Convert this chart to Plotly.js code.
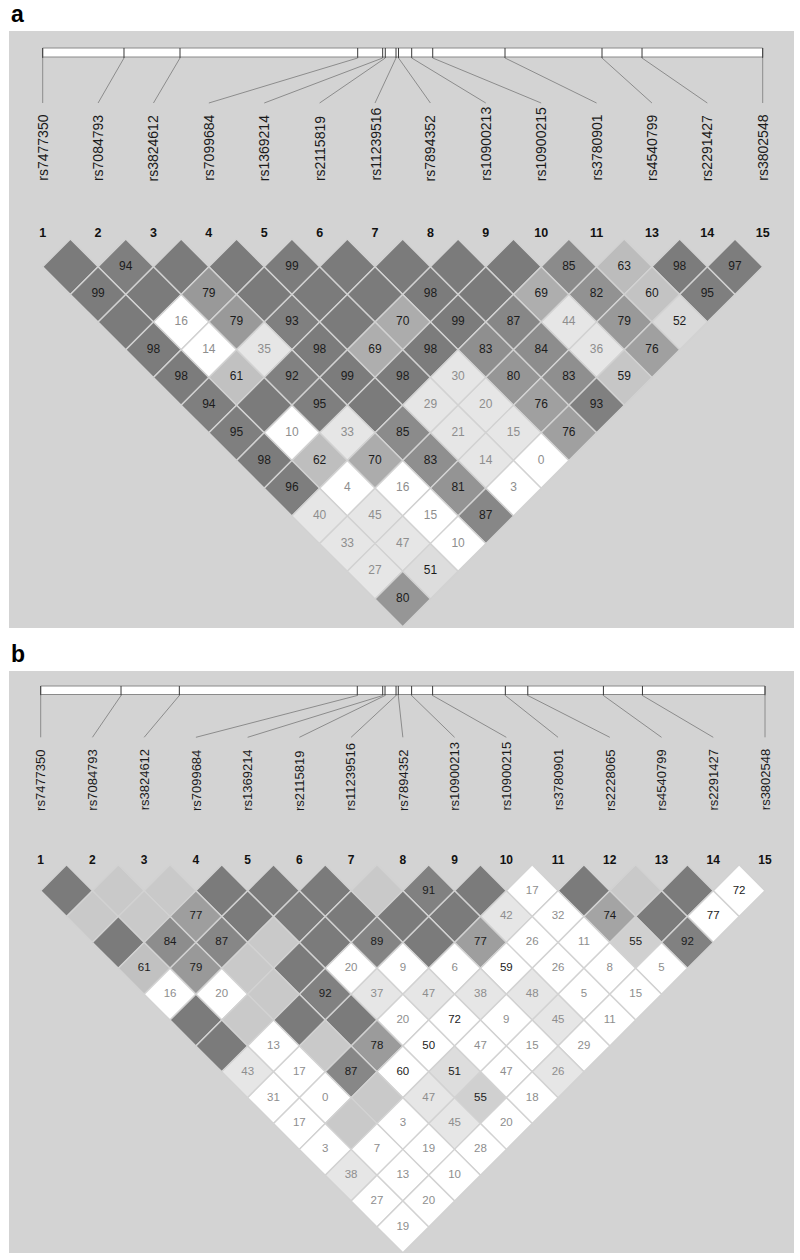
<!DOCTYPE html>
<html><head><meta charset="utf-8">
<script src="https://cdn.plot.ly/plotly-3.0.1.min.js"></script>
<style>body{margin:0;background:#fff}#chart{width:800px;height:1260px}</style>
</head><body><div id="chart"></div><script>
// ---------------- DATA ----------------
// Panel a
const snpsA = ['rs7477350','rs7084793','rs3824612','rs7099684','rs1369214','rs2115819','rs11239516','rs7894352','rs10900213','rs10900215','rs3780901','rs4540799','rs2291427','rs3802548'];
const numsA = ['1','2','3','4','5','6','7','8','9','10','11','13','14','15'];
// relative physical position along the region (% of span)
const posA = [0, 11.29, 19.07, 43.75, 47.22, 47.58, 49.07, 49.42, 51.25, 54.17, 64.21, 77.68, 83.24, 100];
// D' x100 by marker distance k=1..; 100 = D'=1 (no number shown)
const dprimeA = [
 [100,94,100,100,99,100,100,100,100,85,63,98,97],
 [99,100,79,100,100,100,98,100,69,82,60,95],
 [100,16,79,93,100,70,99,87,44,79,52],
 [98,14,35,98,69,98,83,84,36,76],
 [98,61,92,99,98,30,80,83,59],
 [94,100,95,100,29,20,76,93],
 [95,10,33,85,21,15,76],
 [98,62,70,83,14,0],
 [96,4,16,81,3],
 [40,45,15,87],
 [33,47,10],
 [27,51],
 [80]
];
// 1 = LOD >= 2, 0 = LOD < 2
const lodA = [
 [1,1,1,1,1,1,1,1,1,1,1,1,1],
 [1,1,1,1,1,1,1,1,1,1,1,1],
 [1,0,1,1,1,1,1,1,1,1,1],
 [1,0,1,1,1,1,1,1,1,1],
 [1,1,1,1,1,1,1,1,1],
 [1,1,1,1,1,1,1,1],
 [1,0,1,1,1,1,1],
 [1,1,1,1,1,0],
 [1,0,0,1,0],
 [1,1,0,1],
 [1,1,0],
 [1,1],
 [1]
];
// Panel b
const snpsB = ['rs7477350','rs7084793','rs3824612','rs7099684','rs1369214','rs2115819','rs11239516','rs7894352','rs10900213','rs10900215','rs3780901','rs2228065','rs4540799','rs2291427','rs3802548'];
const numsB = ['1','2','3','4','5','6','7','8','9','10','11','12','13','14','15'];
const posB = [0, 11.09, 19.14, 43.71, 47.22, 47.54, 49.06, 49.37, 51.21, 54.11, 64.15, 67.25, 77.69, 83.08, 100];
const dprimeB = [
 [100,100,100,100,100,100,100,91,100,17,100,100,100,72],
 [100,100,77,100,100,100,100,100,42,32,74,100,77],
 [100,84,87,100,100,89,100,77,26,11,55,92],
 [61,79,100,100,20,9,6,59,26,8,5],
 [16,20,100,92,37,47,38,48,5,15],
 [100,100,100,100,20,72,9,45,11],
 [100,13,100,78,50,47,15,29],
 [43,17,87,60,51,47,26],
 [31,0,100,47,55,18],
 [17,100,3,45,20],
 [3,7,19,28],
 [38,13,10],
 [27,20],
 [19]
];
const lodB = [
 [1,0,0,1,1,1,0,1,1,0,1,0,1,0],
 [0,0,1,1,1,1,1,1,1,0,1,1,0],
 [1,1,1,0,1,1,1,1,0,0,1,1],
 [1,1,0,1,0,0,0,0,0,0,0],
 [0,0,0,1,1,1,1,1,0,0],
 [1,0,1,1,0,0,0,1,0],
 [1,0,0,1,0,0,0,0],
 [1,0,1,0,1,0,1],
 [0,0,0,1,1,0],
 [0,0,0,1,0],
 [0,0,0,0],
 [1,0,0],
 [0,0],
 [0]
];

// ---------------- LAYOUT CONFIG ----------------
const W = 800, H = 1260;
const panels = [
  {letter:'a', snps:snpsA, nums:numsA, pos:posA, D:dprimeA, L:lodA,
   box:{l:9, r:794, t:31, b:628}, x0:42.7, x1:762.7, row1:266.7,
   hdr:{barTop:48, barBot:57, lineEnd:103, labelBot:183, numY:234, letterY:14},
   fs:{label:14, num:12.5, cell:12}},
  {letter:'b', snps:snpsB, nums:numsB, pos:posB, D:dprimeB, L:lodB,
   box:{l:9, r:794, t:671, b:1253}, x0:40.7, x1:765, row1:890.7,
   hdr:{barTop:686, barBot:694.5, lineEnd:737.3, labelBot:812.7, numY:860.7, letterY:654},
   fs:{label:13, num:12, cell:11.5}}
];
const FONT = '"Liberation Sans", Arial, sans-serif';

function gray(v){ v=Math.round(v); return 'rgb('+v+','+v+','+v+')'; }
function cellColor(d, lod){
  if (lod) {
    if (d < 50) return gray(230);
    const t = [[50,224],[55,208],[60,195],[70,172],[76,160],[80,150],[85,139],[90,130],[100,123]];
    for (let i=1;i<t.length;i++){
      if (d <= t[i][0]) {
        const f = (d - t[i-1][0])/(t[i][0]-t[i-1][0]);
        return gray(t[i-1][1] + f*(t[i][1]-t[i-1][1]));
      }
    }
    return gray(123);
  }
  return d >= 100 ? gray(201) : gray(255);
}

const traces = [], shapes = [], annotations = [], layout = {};
panels.forEach((p, pi) => {
  const n = p.snps.length;
  const s = (p.x1 - p.x0)/(n-1);
  const ky = px => 1 + (px - p.row1)/(s/2);
  const xa = pi===0 ? 'x' : 'x2', ya = pi===0 ? 'y' : 'y2';
  const xk = pi===0 ? 'xaxis' : 'xaxis2', yk = pi===0 ? 'yaxis' : 'yaxis2';
  const axBase = {showgrid:false, zeroline:false, showticklabels:false, showline:false, ticks:'', fixedrange:true};
  layout[xk] = Object.assign({}, axBase, {domain:[p.box.l/W, p.box.r/W], range:[(p.box.l-p.x0)/s, (p.box.r-p.x0)/s], anchor:ya});
  layout[yk] = Object.assign({}, axBase, {domain:[1-p.box.b/H, 1-p.box.t/H], range:[ky(p.box.b), ky(p.box.t)], anchor:xa});

  // gene bar
  const yT = ky(p.hdr.barTop), yB = ky(p.hdr.barBot);
  shapes.push({type:'rect', xref:xa, yref:ya, x0:0, x1:n-1, y0:yT, y1:yB,
    fillcolor:'#ffffff', line:{color:'#8a8a8a', width:1}, layer:'above'});
  p.pos.forEach((v, i) => {
    const gx = v/100*(n-1);
    shapes.push({type:'line', xref:xa, yref:ya, x0:gx, x1:gx, y0:yT, y1:ky(p.hdr.barBot+1),
      line:{color:'#3a3a3a', width:1}});
    shapes.push({type:'line', xref:xa, yref:ya, x0:gx, x1:i, y0:ky(p.hdr.barBot+1), y1:ky(p.hdr.lineEnd),
      line:{color:'#8c8c8c', width:1}});
    annotations.push({xref:xa, yref:ya, x:i, y:ky(p.hdr.labelBot), text:p.snps[i], textangle:-90,
      xanchor:'center', yanchor:'bottom', showarrow:false, font:{family:FONT, size:p.fs.label, color:'#1a1a1a'}});
  });
  // marker numbers
  traces.push({type:'scatter', mode:'text', xaxis:xa, yaxis:ya, hoverinfo:'skip',
    x:p.nums.map((_,i)=>i), y:p.nums.map(()=>ky(p.hdr.numY)),
    text:p.nums.map(t=>'<b>'+t+'</b>'), textposition:'middle center',
    textfont:{family:FONT, size:p.fs.num, color:'#111'}});

  // LD diamonds
  const tx=[], ty=[], tt=[], tc=[];
  p.D.forEach((row, kk) => {
    const k = kk+1;
    row.forEach((d, i) => {
      const cx = i + k/2;
      traces.push({type:'scatter', mode:'lines', xaxis:xa, yaxis:ya, hoverinfo:'skip',
        x:[cx-0.5, cx, cx+0.5, cx, cx-0.5], y:[k, k-1, k, k+1, k],
        fill:'toself', fillcolor:cellColor(d, p.L[kk][i]),
        line:{color:'#d2d2d2', width:1.4}});
      if (d < 100) { tx.push(cx); ty.push(k); tt.push(String(d)); tc.push(d >= 50 ? '#1c1c1c' : '#8e8e8e'); }
    });
  });
  traces.push({type:'scatter', mode:'text', xaxis:xa, yaxis:ya, hoverinfo:'skip',
    x:tx, y:ty, text:tt, textposition:'middle center',
    textfont:{family:FONT, size:p.fs.cell, color:tc}});

  annotations.push({xref:'paper', yref:'paper', x:9/W, y:1-p.hdr.letterY/H, text:'<b>'+p.letter+'</b>',
    xanchor:'left', yanchor:'middle', showarrow:false, font:{family:FONT, size:23, color:'#000'}});
});

Object.assign(layout, {width:W, height:H, margin:{l:0,r:0,t:0,b:0}, showlegend:false,
  paper_bgcolor:'#ffffff', plot_bgcolor:'#d3d3d3', shapes, annotations});
Plotly.newPlot('chart', traces, layout, {staticPlot:true, displayModeBar:false});
</script></body></html>
